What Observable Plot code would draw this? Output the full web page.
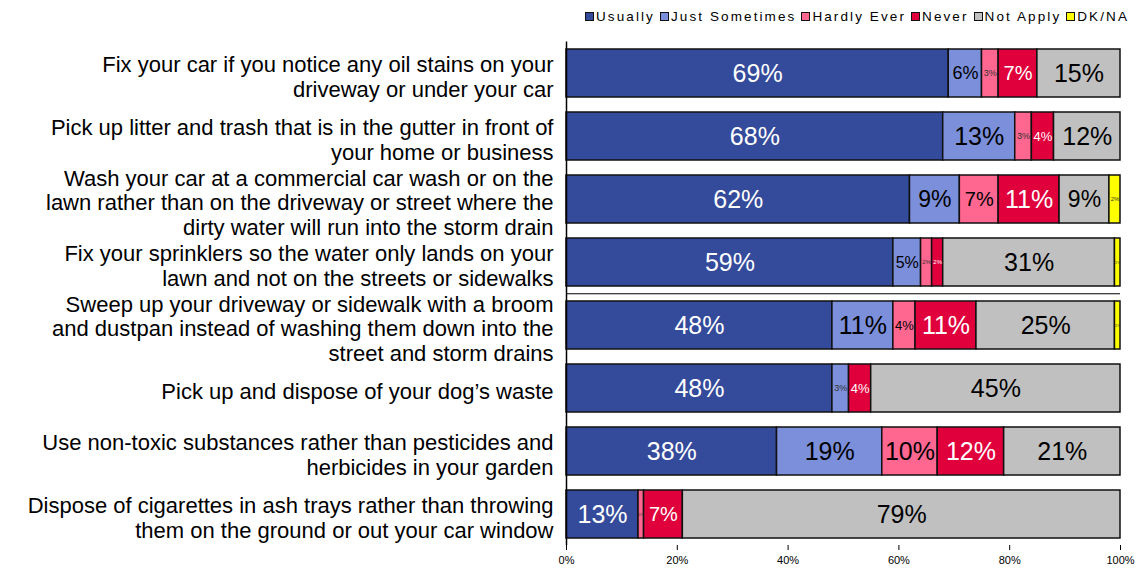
<!DOCTYPE html>
<html>
<head>
<meta charset="utf-8">
<script src="https://cdn.jsdelivr.net/npm/d3@7"></script>
<script src="https://cdn.jsdelivr.net/npm/@observablehq/plot@0.6"></script>
<style>
  body { margin: 0; background: #fff; font-family: "Liberation Sans", Arial, sans-serif; }
  #legend { box-sizing: border-box; height: 28px; display: flex; align-items: center; padding-left: 585px; padding-top: 4px; font-size: 13.5px; letter-spacing: 2.1px; color: #000; white-space: nowrap; }
  #legend .item { display: flex; align-items: center; margin-right: 5px; }
  #legend .sw { width: 7px; height: 7px; border: 1px solid #111; margin-right: 2px; }
</style>
</head>
<body>
<div id="legend"></div>
<div id="chart"></div>
<script>
const questions = [
  "Fix your car if you notice any oil stains on your\ndriveway or under your car",
  "Pick up litter and trash that is in the gutter in front of\nyour home or business",
  "Wash your car at a commercial car wash or on the\nlawn rather than on the driveway or street where the\ndirty water will run into the storm drain",
  "Fix your sprinklers so the water only lands on your\nlawn and not on the streets or sidewalks",
  "Sweep up your driveway or sidewalk with a broom\nand dustpan instead of washing them down into the\nstreet and storm drains",
  "Pick up and dispose of your dog\u2019s waste",
  "Use non-toxic substances rather than pesticides and\nherbicides in your garden",
  "Dispose of cigarettes in ash trays rather than throwing\nthem on the ground or out your car window"
];
const responses = ["Usually", "Just Sometimes", "Hardly Ever", "Never", "Not Apply", "DK/NA"];
const colors = ["#344a9a", "#7b8fdb", "#ff6690", "#e0003c", "#c0c0c0", "#ffff00"];

const usually       = [69, 68, 62, 59, 48, 48, 38, 13];
const justSometimes = [6, 13, 9, 5, 11, 3, 19, 0];
const hardlyEver    = [3, 3, 7, 2, 4, 0, 10, 1];
const never         = [7, 4, 11, 2, 11, 4, 12, 7];
const notApply      = [15, 12, 9, 31, 25, 45, 21, 79];
const dkna          = [0, 0, 2, 1, 1, 0, 0, 0];
const xTicks = [0, 20, 40, 60, 80, 100];

const series = [usually, justSometimes, hardlyEver, never, notApply, dkna];
const data = [];
questions.forEach((q, i) => {
  responses.forEach((r, j) => {
    data.push({question: q, response: r, value: series[j][i]});
  });
});

// legend
const leg = document.getElementById("legend");
responses.forEach((r, j) => {
  const it = document.createElement("div");
  it.className = "item";
  it.innerHTML = `<span class="sw" style="background:${colors[j]}"></span><span>${r}</span>`;
  leg.appendChild(it);
});

function fs(v) {
  if (v >= 10) return 25;
  if (v >= 9) return 23;
  if (v >= 7) return 20;
  if (v >= 6) return 18;
  if (v >= 5) return 16;
  if (v >= 4) return 13;
  if (v >= 3) return 9;
  if (v >= 2) return 6;
  return 4;
}

const stackOpts = {x: "value", y: "question", z: "response", order: responses};

const chart = Plot.plot({
  width: 1138,
  height: 545,
  marginLeft: 566,
  marginRight: 18,
  marginTop: 13.5,
  marginBottom: 28,
  style: {fontFamily: "Liberation Sans, Arial, sans-serif", background: "#fff"},
  x: {domain: [0, 100], axis: null},
  y: {domain: questions, paddingInner: 0.238, paddingOuter: 0.09, axis: null},
  color: {domain: responses, range: colors},
  marks: [
    Plot.barX(data.filter(d => d.value > 0), Plot.stackX({...stackOpts, fill: "response", stroke: "#111", strokeWidth: 1.5})),
    Plot.text(data.filter(d => d.value > 0), Plot.stackX({
      ...stackOpts,
      text: d => d.value + "%",
      fill: d => (d.response === "Usually" || d.response === "Never") ? "#fff" : (d.value <= 3 ? "#333" : "#000"),
      fontSize: d => fs(d.value)
    })),
    Plot.text(questions, {
      x: () => 0, y: d => d, text: d => d, textAnchor: "end", dx: -13, dy: 3,
      fontSize: 22, lineHeight: 1.12, fill: "#000"
    }),
    Plot.ruleX([0], {stroke: "#000", strokeWidth: 1.5}),
    Plot.ruleY([0], {stroke: "#000", strokeWidth: 1, x1: 0, x2: 100, y: null, frameAnchor: "bottom"}),
    Plot.axisX({ticks: xTicks, tickFormat: d => d + "%", tickSize: 5, tickPadding: 6, fontSize: 11, anchor: "bottom", label: null})
  ]
});
document.getElementById("chart").appendChild(chart);
</script>
</body>
</html>
